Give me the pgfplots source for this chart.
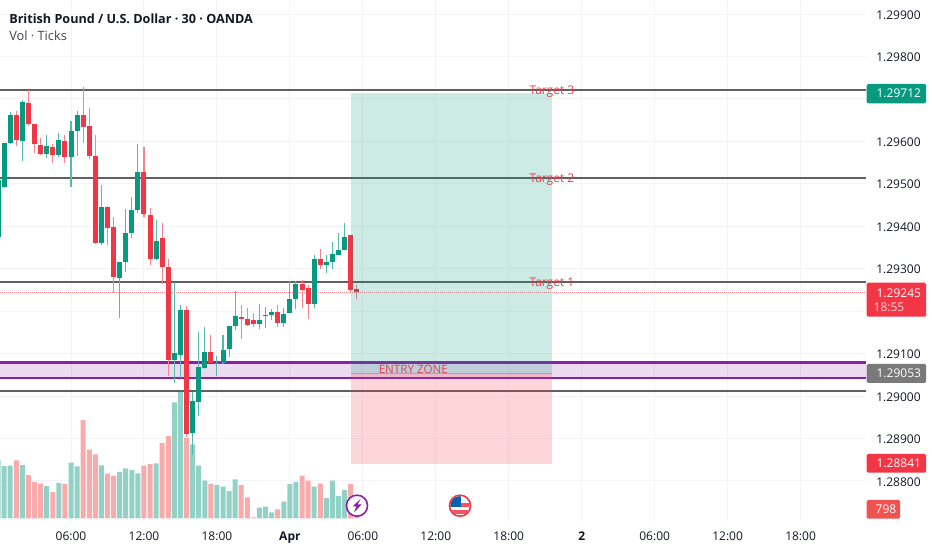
\documentclass[border=0pt]{standalone}
\usepackage{pgfplots}
\usepackage{pgfplotstable}
\usepackage{fontspec}
\pgfplotsset{compat=1.18}
\setmainfont{Open Sans}
\definecolor{cup}{HTML}{089981}
\definecolor{cdn}{HTML}{F23645}
\definecolor{wup}{HTML}{55BBA8}
\definecolor{wdn}{HTML}{F58490}
\definecolor{vup}{HTML}{92D1C6}
\definecolor{vdn}{HTML}{F9AAAA}
\definecolor{gridc}{HTML}{F4F4F6}
\definecolor{linec}{HTML}{606060}
\definecolor{purp}{HTML}{8A1FA8}
\definecolor{bandc}{HTML}{8E24AA}
\definecolor{txt}{HTML}{131722}
\definecolor{lab}{HTML}{E2434F}
\pgfplotstableread{
i o h l c
-12 1.29375 1.29509 1.29375 1.29509
-11 1.29493 1.29595 1.29492 1.29595
-10 1.29595 1.29670 1.29594 1.29662
-8 1.29602 1.29697 1.29554 1.29693
-4 1.29571 1.29615 1.29561 1.29588
-2 1.29568 1.29619 1.29564 1.29604
0 1.29564 1.29648 1.29492 1.29624
1 1.29624 1.29672 1.29566 1.29662
5 1.29361 1.29497 1.29356 1.29445
8 1.29279 1.29316 1.29183 1.29316
9 1.29316 1.29440 1.29293 1.29385
10 1.29383 1.29470 1.29373 1.29439
11 1.29438 1.29594 1.29432 1.29529
14 1.29324 1.29415 1.29323 1.29366
17 1.29085 1.29269 1.29031 1.29101
18 1.29097 1.29214 1.29042 1.29203
20 1.28912 1.29010 1.28861 1.28988
21 1.28987 1.29152 1.28954 1.29068
22 1.29065 1.29162 1.29063 1.29103
24 1.29075 1.29094 1.29048 1.29078
25 1.29078 1.29144 1.29077 1.29108
26 1.29110 1.29165 1.29093 1.29165
27 1.29165 1.29247 1.29156 1.29188
31 1.29170 1.29217 1.29157 1.29180
32 1.29188 1.29210 1.29160 1.29192
33 1.29192 1.29204 1.29179 1.29197
35 1.29172 1.29207 1.29163 1.29194
36 1.29195 1.29272 1.29195 1.29229
37 1.29229 1.29272 1.29204 1.29265
40 1.29218 1.29332 1.29207 1.29322
42 1.29309 1.29332 1.29289 1.29316
43 1.29316 1.29364 1.29299 1.29334
44 1.29332 1.29385 1.29332 1.29344
45 1.29344 1.29408 1.29344 1.29375
}\upt
\pgfplotstableread{
i o h l c
-9 1.29662 1.29672 1.29589 1.29603
-7 1.29691 1.29721 1.29636 1.29641
-6 1.29640 1.29642 1.29572 1.29594
-5 1.29592 1.29607 1.29568 1.29571
-3 1.29587 1.29594 1.29550 1.29569
-1 1.29602 1.29615 1.29550 1.29562
2 1.29662 1.29729 1.29595 1.29634
3 1.29635 1.29678 1.29558 1.29565
4 1.29566 1.29615 1.29358 1.29360
6 1.29446 1.29448 1.29356 1.29397
7 1.29399 1.29422 1.29242 1.29280
12 1.29527 1.29587 1.29422 1.29428
13 1.29426 1.29442 1.29309 1.29324
15 1.29372 1.29407 1.29263 1.29305
16 1.29305 1.29322 1.29047 1.29085
19 1.29203 1.29212 1.28903 1.28910
23 1.29103 1.29144 1.29078 1.29078
28 1.29187 1.29214 1.29134 1.29181
29 1.29181 1.29207 1.29165 1.29168
30 1.29179 1.29195 1.29162 1.29170
34 1.29197 1.29214 1.29162 1.29172
38 1.29265 1.29273 1.29207 1.29251
39 1.29254 1.29262 1.29181 1.29218
41 1.29322 1.29346 1.29299 1.29309
46 1.29379 1.29379 1.29242 1.29251
47 1.29252 1.29262 1.29228 1.29244
}\dnt
\pgfplotstableread{
i v
-12 4664
-11 4184
-10 4216
-8 4264
-4 2584
-2 2824
0 4456
1 4160
5 4240
8 3704
9 4000
10 3864
11 3600
14 4400
17 9280
18 10240
20 5920
21 4216
22 3016
24 2664
25 2536
26 2184
27 3120
31 856
32 936
33 480
35 1336
36 2744
37 2904
40 2536
42 1624
43 3016
44 1784
45 2264
}\vupt
\pgfplotstableread{
i v
-9 4640
-7 3464
-6 2904
-5 2776
-3 2104
-1 2744
2 7864
3 5496
4 5120
6 3576
7 3416
12 4216
13 4344
15 6024
16 6584
19 6448
23 2744
28 2664
29 1680
30 80
34 720
38 3416
39 3016
41 2776
46 2744
47 798
}\vdnt
\pgfplotsset{base/.style={
  at={(0,0)}, anchor=south west, scale only axis,
  width=649.5pt, height=390.75pt,
  xmin=-11.68, xmax=130.76}}
\newcommand{\hln}[3]{\addplot[#1,line width=#2,forget plot] coordinates {(-11.68,#3) (130.76,#3)};}
\newcommand{\cand}[4]{%
  \addplot[draw=none,mark=none,forget plot,error bars/.cd,y dir=both,y explicit,error mark=none,
    error bar style={draw=#3,line width=.8pt,solid}]
    table[x=i,y=o,y error plus expr=\thisrow{h}-\thisrow{o},y error minus expr=\thisrow{o}-\thisrow{l}] {#1};
  \addplot[draw=none,mark=none,forget plot,error bars/.cd,y dir=#4,y explicit,error mark=none,
    error bar style={draw=#2,line width=3.75pt,solid}]
    table[x=i,y=o,y error plus expr=\thisrow{c}-\thisrow{o},y error minus expr=\thisrow{o}-\thisrow{c}] {#1};}
\begin{document}
\begin{tikzpicture}
\fill[white] (0,-21.75pt) rectangle (699pt,390.75pt);
\path[use as bounding box] (0,-21.75pt) rectangle (699pt,390.75pt);
% grid and scale labels
\begin{axis}[base,
  ymin=1.287057, ymax=1.29933,
  axis line style={draw=none}, tick style={draw=none}, major tick length=0pt,
  xtick={0,12,24,36,48,60,72,84,96,108,120},
  xticklabels={06:00,12:00,18:00,\textbf{Apr},06:00,12:00,18:00,\textbf{2},06:00,12:00,18:00},
  ytick={1.288,1.289,1.29,1.291,1.293,1.294,1.295,1.296,1.298,1.299},
  extra y ticks={1.292,1.297},
  extra y tick labels={},
  extra y tick style={ymajorgrids},
  scaled y ticks=false,
  yticklabel pos=right,
  yticklabel style={/pgf/number format/.cd,fixed,fixed zerofill,precision=5,assume math mode=true,
    /tikz/.cd,font=\fontsize{9pt}{11pt}\selectfont,text=txt,anchor=west,xshift=4.2pt,yshift=-.6pt},
  xticklabel style={font=\fontsize{9pt}{11pt}\selectfont,text=txt,yshift=-4.4pt},
  xmajorgrids,ymajorgrids,grid style={draw=gridc,line width=.75pt}]
\addplot[draw=none,forget plot] coordinates {(0,1.29)};
\end{axis}
% volume
\begin{axis}[base,hide axis,ymin=-216,ymax=41464,ybar,bar width=3.75pt]
\addplot[bar shift=0pt,fill=vup,draw=none,forget plot] table[x=i,y=v] {\vupt};
\addplot[bar shift=0pt,fill=vdn,draw=none,forget plot] table[x=i,y=v] {\vdnt};
\end{axis}
% price
\begin{axis}[base,hide axis,ymin=1.287057,ymax=1.29933,clip=true]
\addplot[fill=bandc,fill opacity=.17,draw=none,forget plot] coordinates {(-11.68,1.29079) (130.76,1.29079) (130.76,1.29042) (-11.68,1.29042)} -- cycle;
\hln{linec}{1.5pt}{1.29721}
\hln{linec}{1.5pt}{1.29513}
\hln{linec}{1.5pt}{1.29268}
\hln{linec}{1.5pt}{1.29011}
\hln{purp}{1.6pt}{1.29079}
\hln{purp}{1.6pt}{1.29042}
\hln{cdn!60!white,densely dotted}{.5pt}{1.29245}
\cand{\upt}{cup}{wup}{plus}
\cand{\dnt}{cdn}{wdn}{minus}
\addplot[fill=cup,fill opacity=.2,draw=none,forget plot] coordinates {(46.05,1.29714) (79.1,1.29714) (79.1,1.29053) (46.05,1.29053)} -- cycle;
\addplot[fill=cdn,fill opacity=.2,draw=none,forget plot] coordinates {(46.05,1.29053) (79.1,1.29053) (79.1,1.28841) (46.05,1.28841)} -- cycle;
\addplot[draw=gray!70,line width=.7pt,forget plot] coordinates {(46.05,1.29053) (79.1,1.29053)};
\node[text=lab,font=\fontsize{9pt}{11pt}\selectfont,inner sep=0pt,yshift=-1.1pt] at (axis cs:79.1,1.29721) {Target 3};
\node[text=lab,font=\fontsize{9pt}{11pt}\selectfont,inner sep=0pt,yshift=-1.1pt] at (axis cs:79.1,1.29513) {Target 2};
\node[text=lab,font=\fontsize{9pt}{11pt}\selectfont,inner sep=0pt,yshift=-1.1pt] at (axis cs:79.1,1.29268) {Target 1};
\node[text=lab,font=\fontsize{8.7pt}{11pt}\selectfont,inner sep=0pt] at (axis cs:56.3,1.29063) {ENTRY ZONE};
\end{axis}
% title
\def\PX#1#2{({#1*0.75pt},{(521-#2)*0.75pt})}
\node[anchor=west,inner sep=0pt,text=txt,font=\fontsize{9.47pt}{12pt}\selectfont\bfseries] at \PX{9}{18.4} {British Pound / U.S. Dollar · 30 · OANDA};
\node[anchor=west,inner sep=0pt,text=txt!80!white,font=\fontsize{9.6pt}{12pt}\selectfont] at \PX{9}{36} {Vol · Ticks};
% scale boxes
\newcommand{\pricebox}[6]{%
  \fill[#1,rounded corners=1pt] \PX{866.7}{#2} rectangle \PX{#4}{#3};
  \node[text=white,font=\fontsize{9pt}{11pt}\selectfont,inner sep=0pt] at \PX{#5}{((#2+#3)/2)} {#6};}
\pricebox{cup}{84}{103.3}{926}{898.8}{1.29712}
\fill[cdn,rounded corners=1pt] \PX{866.7}{282.7} rectangle \PX{926}{316.7};
\node[text=white,font=\fontsize{9pt}{11pt}\selectfont,inner sep=0pt] at \PX{898.8}{293} {1.29245};
\node[text=white!80!cdn,font=\fontsize{9pt}{11pt}\selectfont,inner sep=0pt] at \PX{889}{307.5} {18:55};
\pricebox{gray!95!black}{364}{383}{926}{898.8}{1.29053}
\pricebox{cdn}{454}{472.7}{926}{898.8}{1.28841}
\definecolor{volbox}{HTML}{EF5350}
\fill[volbox,rounded corners=1pt] \PX{866.7}{500} rectangle \PX{900}{518.6};
\node[text=white,font=\fontsize{9pt}{11pt}\selectfont,inner sep=0pt] at \PX{886}{509.3} {798};
% event icons
\fill[white] \PX{357}{505.7} circle (8.2pt);
\draw[purp,line width=1.2pt] \PX{357}{505.7} circle (7.9pt);
\fill[purp] \PX{360.5}{499} -- \PX{352.5}{506.5} -- \PX{356.3}{506.5} -- \PX{354}{512.5} -- \PX{361.5}{504.5} -- \PX{357.7}{504.5} -- cycle;
\fill[white] \PX{460}{505.7} circle (8.2pt);
\begin{scope}
\clip \PX{460}{505.7} circle (7.2pt);
\fill[cdn!85!white] \PX{448}{503} rectangle \PX{472}{507};
\fill[cdn!85!white] \PX{448}{510} rectangle \PX{472}{514};
\fill[blue!45!cyan!70!black] \PX{448}{495} rectangle \PX{460.5}{507};
\end{scope}
\draw[cdn,line width=1.2pt] \PX{460}{505.7} circle (7.9pt);
\end{tikzpicture}
\end{document}
